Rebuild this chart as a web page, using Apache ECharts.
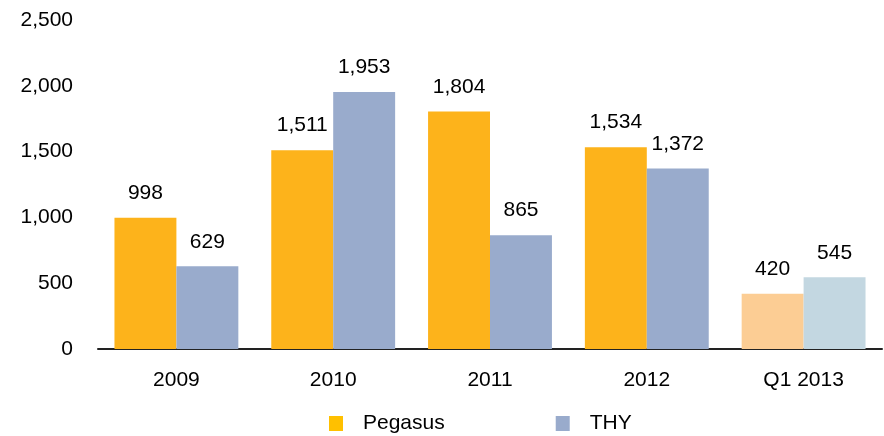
<!DOCTYPE html>
<html>
<head>
<meta charset="utf-8">
<script src="https://cdn.jsdelivr.net/npm/echarts@6/dist/echarts.min.js"></script>
<style>
html, body {margin: 0; padding: 0; background: #fff;}
#chart {width: 884px; height: 436px;}
</style>
</head>
<body>
<div id="chart"></div>
<script>
var categories = ['2009', '2010', '2011', '2012', 'Q1 2013'];
var pegasus = [998, 1511, 1804, 1534, 420];
var thy = [629, 1953, 865, 1372, 545];

var pegasusColor = '#FDB31B';
var thyColor = '#99ABCC';
//Q1 柱子颜色更浅
var pegasusLight = '#FCCD94';
var thyLight = '#C3D7E1';

function makeData(values, normal, light) {
    return values.map(function (v, i) {
        return {
            value: v,
            itemStyle: {color: i == values.length - 1 ? light : normal}
        };
    });
}

function fmt(v) {
    return String(v).replace(/\B(?=(\d{3})+(?!\d))/g, ',');
}

var labelStyle = {
    show: true,
    position: 'top',
    distance: 14,
    color: '#000',
    fontSize: 21,
    fontFamily: 'Liberation Sans',
    formatter: function (p) {
        return fmt(p.value);
    }
};

var option = {
    animation: false,
    textStyle: {fontFamily: 'Liberation Sans'},
    grid: {
        left: 98,
        right: 2,
        top: 20,
        bottom: 87
    },
    legend: {
        top: 413,
        left: 329,
        padding: 0,
        itemWidth: 14,
        itemHeight: 15,
        itemGap: 111,
        icon: 'rect',
        textStyle: {fontSize: 21, color: '#000', padding: [0, 0, 0, 15]},
        data: [
            {name: 'Pegasus', itemStyle: {color: '#FFC000'}},
            {name: 'THY', itemStyle: {color: thyColor}}
        ]
    },
    xAxis: {
        type: 'category',
        data: categories,
        axisLine: {lineStyle: {color: '#222', width: 2}},
        axisTick: {show: false},
        axisLabel: {color: '#000', fontSize: 21, margin: 21}
    },
    yAxis: {
        type: 'value',
        min: 0,
        max: 2500,
        interval: 500,
        splitLine: {show: false},
        axisLine: {show: false},
        axisTick: {show: false},
        axisLabel: {
            color: '#000',
            fontSize: 21,
            margin: 25,
            formatter: function (v) {
                return fmt(v);
            }
        }
    },
    series: [
        {
            name: 'Pegasus',
            type: 'bar',
            barGap: 0,
            barCategoryGap: '21%',
            itemStyle: {color: pegasusColor},
            label: labelStyle,
            data: makeData(pegasus, pegasusColor, pegasusLight)
        },
        {
            name: 'THY',
            type: 'bar',
            barGap: 0,
            barCategoryGap: '21%',
            itemStyle: {color: thyColor},
            label: labelStyle,
            data: makeData(thy, thyColor, thyLight)
        }
    ]
};

var chart = echarts.init(document.getElementById('chart'));
chart.setOption(option);
</script>
</body>
</html>
